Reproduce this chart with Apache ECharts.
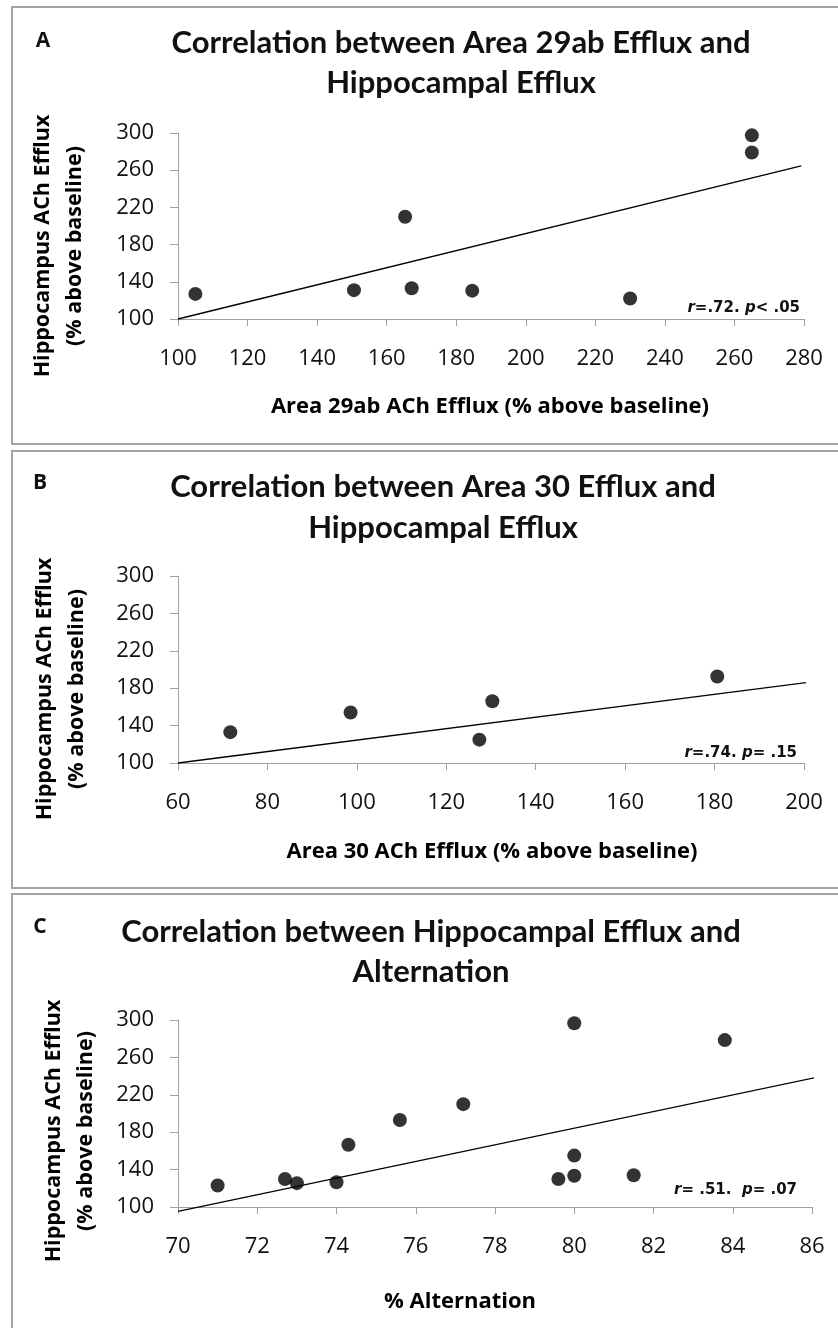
<!DOCTYPE html>
<html><head><meta charset="utf-8">
<script src="https://cdn.jsdelivr.net/npm/echarts@6/dist/echarts.min.js"></script>
<style>html,body{margin:0;padding:0;background:#fff}#c{width:838px;height:1328px}</style>
</head><body><div id="c"></div><script>
// ---- data ----
const yTicks = [100, 140, 180, 220, 260, 300];
const aX = [105, 150.6, 165.3, 167.2, 184.6, 230, 265, 265];
const aY = [127, 131, 210, 133, 130.5, 122, 297.5, 279];
const aTrendX = [100, 279.2];
const aTrendY = [100, 264.6];
const bX = [71.7, 98.6, 127.4, 130.3, 180.6];
const bY = [133, 154, 125, 166, 192.5];
const bTrendX = [60, 202.5];
const bTrendY = [100, 187.2];
const cX = [71.0, 72.7, 73.0, 74.0, 74.3, 75.6, 77.2, 79.6, 80, 80, 80, 81.5, 83.8];
const cY = [123, 130, 125.5, 126.5, 166.5, 193, 210, 130, 133.5, 155, 296.5, 134, 278.5];
const cTrendX = [70, 86.27];
const cTrendY = [95.3, 240.1];

const titles = [
  'Correlation between Area 29ab Efflux and\nHippocampal Efflux',
  'Correlation between Area 30 Efflux and\nHippocampal Efflux',
  'Correlation between Hippocampal Efflux and\nAlternation'
];
const panelLetters = ['A', 'B', 'C'];
const xNames = ['Area 29ab ACh Efflux (% above baseline)', 'Area 30 ACh Efflux (% above baseline)', '% Alternation'];
const yName = 'Hippocampus ACh Efflux\n(% above baseline)';
const stats = ['{i|r}=.72. {i|p}< .05', '{i|r}=.74. {i|p}= .15', '{i|r}= .51.  {i|p}= .07'];

const zip = (xs, ys) => xs.map((x, i) => [x, ys[i]]);

const TFONT = 'Lato, "Open Sans", sans-serif';
const FONT = '"Open Sans", Lato, sans-serif';
const SFONT = '"DejaVu Sans", "Open Sans", sans-serif';
const axisGray = '#a0a0a0';

const chart = echarts.init(document.getElementById('c'), null, {renderer: 'canvas'});

const grids = [
  {left: 178, top: 133, width: 626, height: 186},
  {left: 178, top: 576, width: 626, height: 187},
  {left: 178, top: 1020, width: 634, height: 187}
];
const xRanges = [[100, 280, 20], [60, 200, 20], [70, 86, 2]];

const xAxes = xRanges.map((r, i) => ({
  type: 'value', gridIndex: i, min: r[0], max: r[1], interval: r[2],
  axisLine: {show: true, lineStyle: {color: axisGray, width: 1}},
  axisTick: {show: true, length: 7, lineStyle: {color: axisGray, width: 1}},
  splitLine: {show: false},
  axisLabel: {color: '#111', fontFamily: FONT, fontSize: 22, margin: 29}
}));
const yAxes = [0, 1, 2].map(i => ({
  type: 'value', gridIndex: i, min: yTicks[0], max: yTicks[yTicks.length - 1], interval: yTicks[1] - yTicks[0],
  axisLine: {show: true, lineStyle: {color: axisGray, width: 1}},
  axisTick: {show: true, length: 8, lineStyle: {color: axisGray, width: 1}},
  splitLine: {show: false},
  axisLabel: {color: '#111', fontFamily: FONT, fontSize: 22, margin: 24}
}));

const scatterData = [zip(aX, aY), zip(bX, bY), zip(cX, cY)];
const trendData = [zip(aTrendX, aTrendY), zip(bTrendX, bTrendY), zip(cTrendX, cTrendY)];

const series = [];
[0, 1, 2].forEach(i => {
  series.push({
    type: 'line', xAxisIndex: i, yAxisIndex: i, data: trendData[i],
    symbol: 'none', clip: false, silent: true,
    lineStyle: {color: '#000', width: 1.3}
  });
  series.push({
    type: 'scatter', xAxisIndex: i, yAxisIndex: i, data: scatterData[i],
    symbol: 'circle', symbolSize: 14, clip: false,
    itemStyle: {color: '#000'}
  });
});

const borders = [[12, 7, 437], [12, 451, 437], [12, 894, 440]];
const letterPos = [[43, 41], [40, 483], [40, 927]];
const titlePos = [[461, 63, 40], [443, 507, 41], [431, 952, 40]];
const yNamePos = [[59, 246], [61, 689], [70, 1131]];
const xNamePos = [[490, 407], [492, 852], [460, 1302]];
const statPos = [[800, 308], [797, 753], [797, 1190]];

const graphic = [];
[0, 1, 2].forEach(i => {
  graphic.push({type: 'rect', shape: {x: borders[i][0], y: borders[i][1], width: 850, height: borders[i][2]},
    style: {fill: 'none', stroke: '#a3a3a3', lineWidth: 2}, silent: true, z: -1});
  graphic.push({type: 'text', x: letterPos[i][0], y: letterPos[i][1],
    style: {text: panelLetters[i], font: 'bold 21px ' + FONT, fill: '#111', textAlign: 'center', textVerticalAlign: 'middle'}});
  graphic.push({type: 'text', x: titlePos[i][0], y: titlePos[i][1],
    style: {text: titles[i], font: 'bold 31px ' + TFONT, fill: '#111', textAlign: 'center', textVerticalAlign: 'middle', lineHeight: titlePos[i][2]}});
  graphic.push({type: 'text', x: yNamePos[i][0], y: yNamePos[i][1], rotation: Math.PI / 2,
    style: {text: yName, font: 'bold 21.5px ' + FONT, fill: '#000', textAlign: 'center', textVerticalAlign: 'middle', lineHeight: 32}});
  graphic.push({type: 'text', x: xNamePos[i][0], y: xNamePos[i][1],
    style: {text: xNames[i], font: 'bold 22px ' + FONT, fill: '#000', textAlign: 'center', textVerticalAlign: 'middle'}});
  graphic.push({type: 'text', x: statPos[i][0], y: statPos[i][1],
    style: {text: stats[i], font: 'bold 15px ' + SFONT, fill: '#111', textAlign: 'right', textVerticalAlign: 'middle',
      rich: {i: {fontStyle: 'italic', fontWeight: 'bold', fontSize: 15, fontFamily: SFONT, fill: '#111'}}}});
});

chart.setOption({
  animation: false,
  backgroundColor: '#fff',
  grid: grids,
  xAxis: xAxes,
  yAxis: yAxes,
  series: series,
  graphic: graphic
});
</script></body></html>
